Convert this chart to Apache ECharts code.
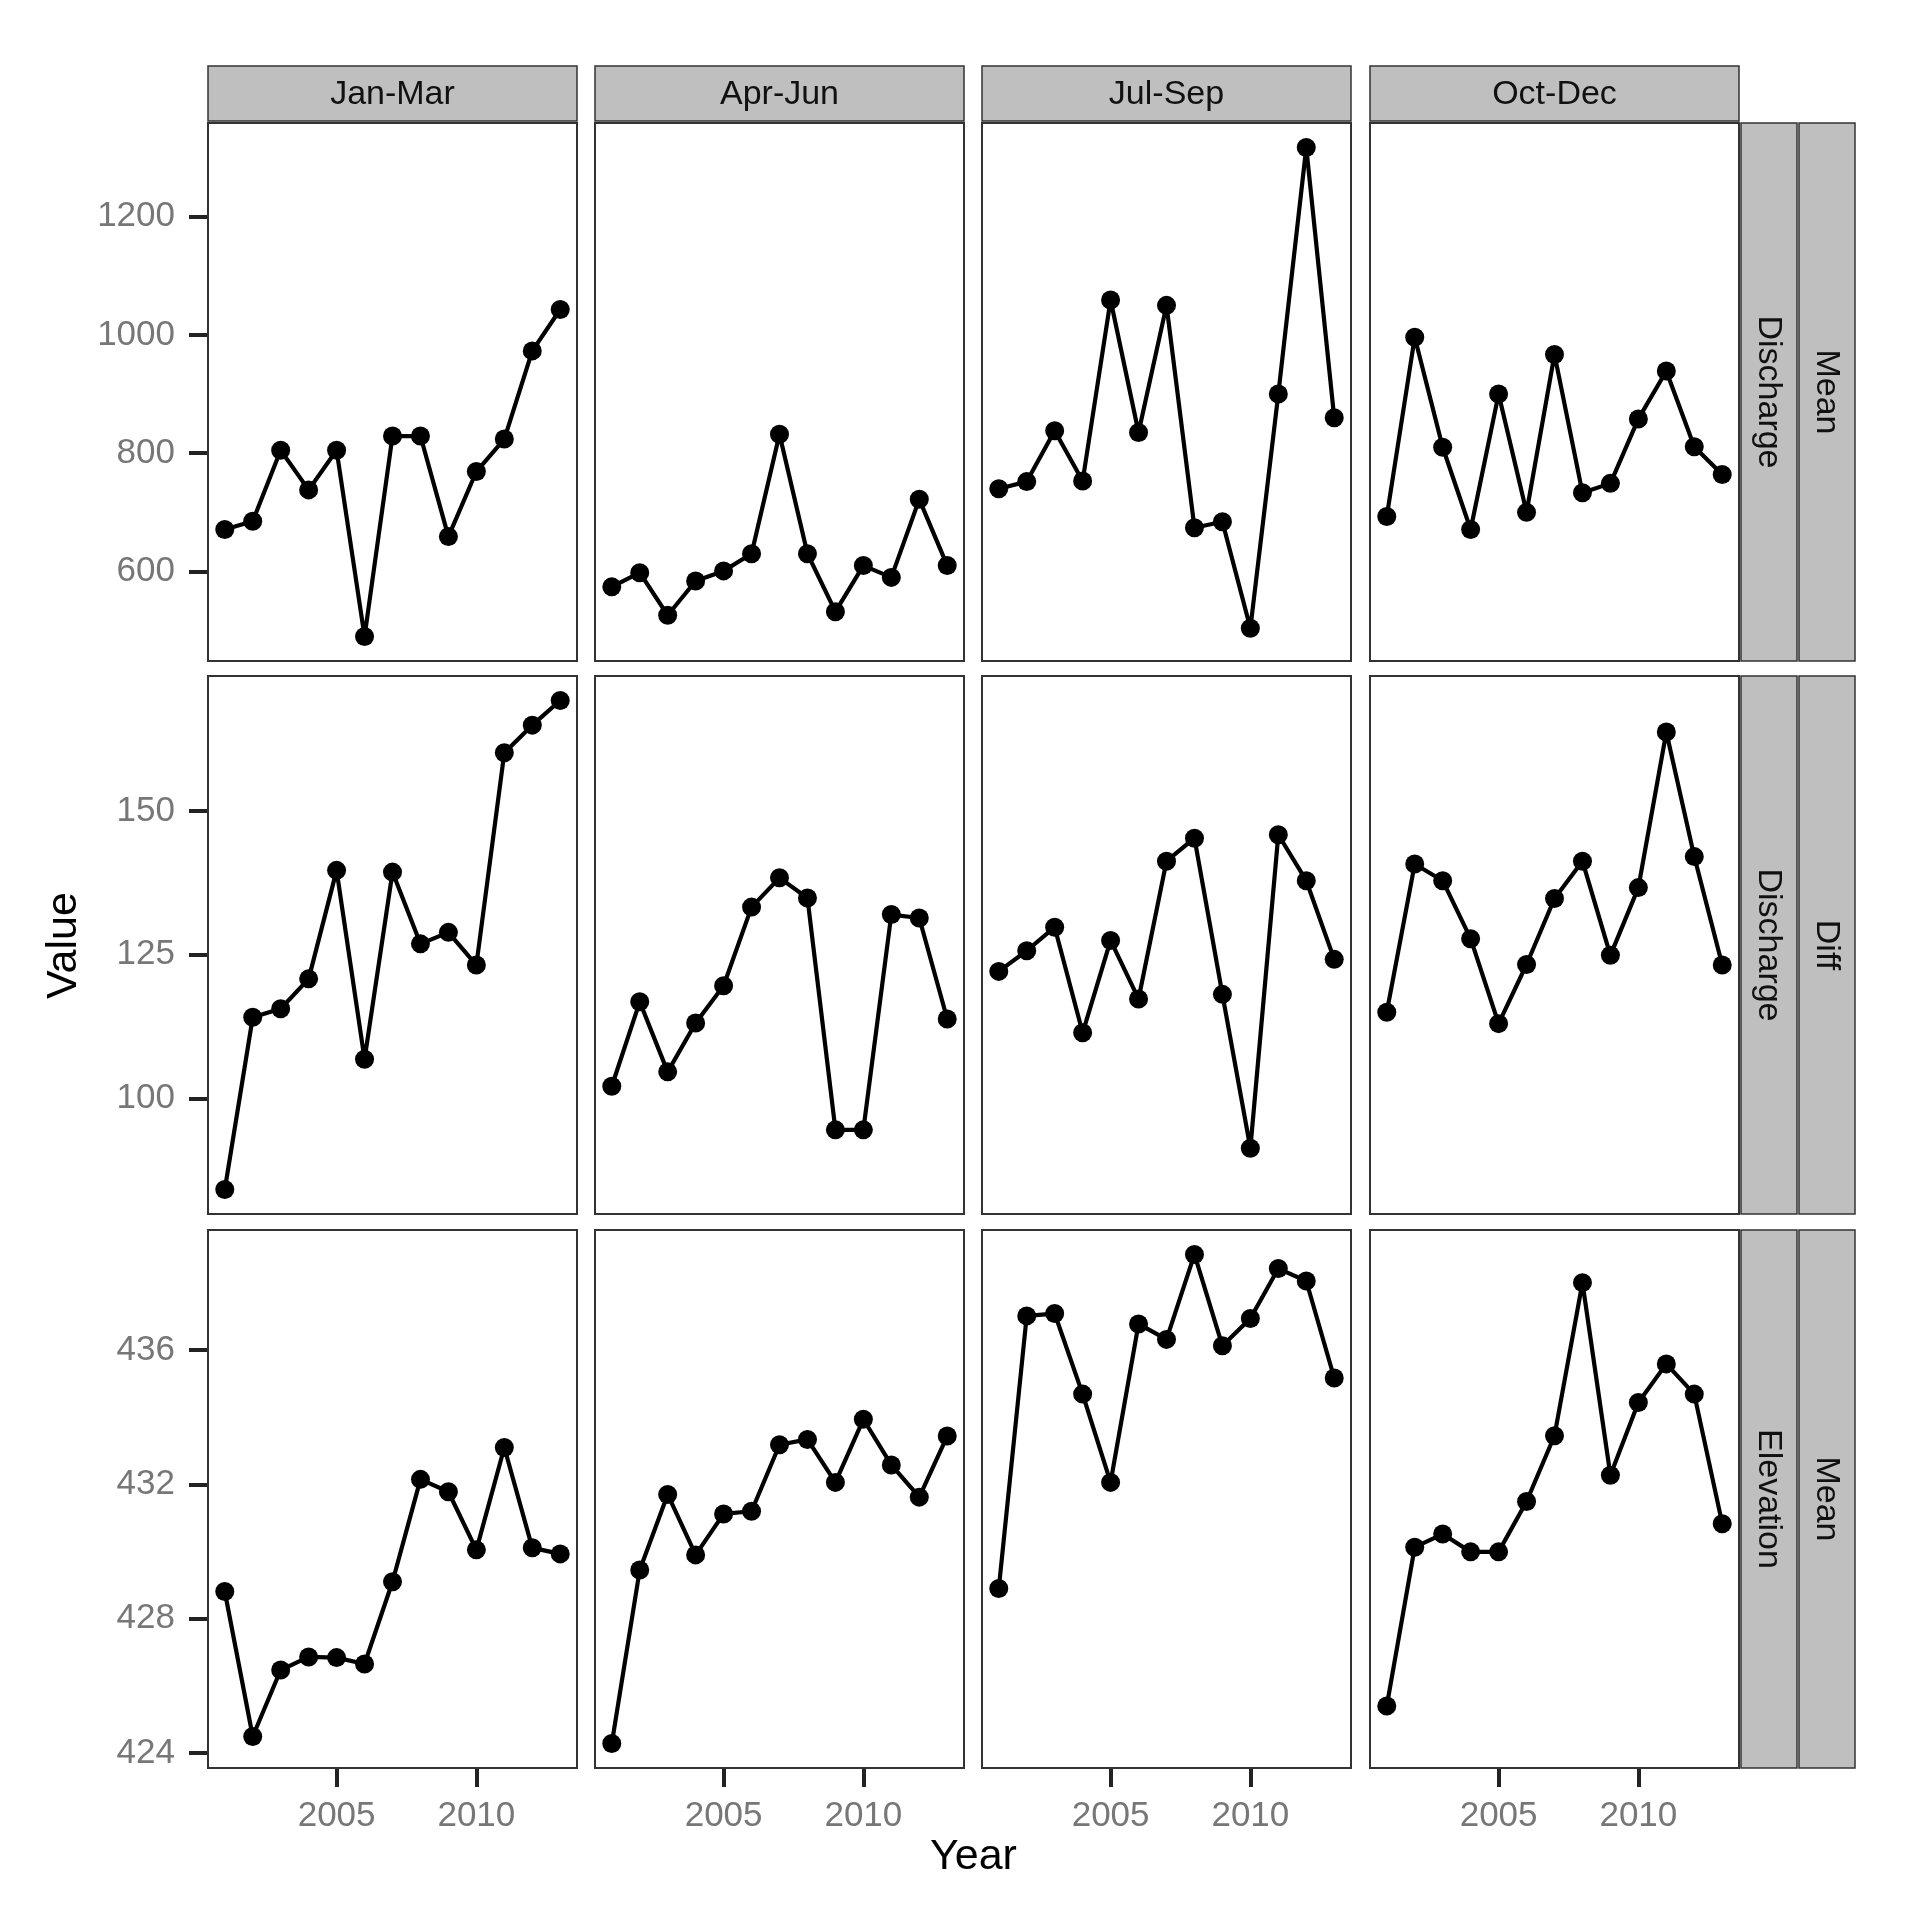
<!DOCTYPE html>
<html><head><meta charset="utf-8">
<script src="https://cdn.jsdelivr.net/npm/echarts@6.0.0/dist/echarts.min.js"></script>
<style>html,body{margin:0;padding:0;background:#fff}#c{width:1920px;height:1920px}</style>
</head><body><div id="c"></div>
<script>
// ---- data ----
const years = [2001,2002,2003,2004,2005,2006,2007,2008,2009,2010,2011,2012,2013];
const quarters = ['Jan-Mar','Apr-Jun','Jul-Sep','Oct-Dec'];
const rowVariable = ['Discharge','Discharge','Elevation'];
const rowStatistic = ['Mean','Diff','Mean'];
const xTickValues = [2005, 2010];
const yTicksDischargeMean = [600, 800, 1000, 1200];
const yTicksDischargeDiff = [100, 125, 150];
const yTicksElevationMean = [424, 428, 432, 436];

const dischargeMeanJanMar = [671,685,805,738,805,490,829,829,659,769,824,973,1043];
const dischargeMeanAprJun = [574,598,526,584,601,630,832,630,532,610,590,722,610];
const dischargeMeanJulSep = [740,752,838,753,1059,835,1050,674,684,504,900,1317,860];
const dischargeMeanOctDec = [693,996,810,671,900,700,967,733,749,858,939,811,764];

const dischargeDiffJanMar = [84.1,114.1,115.6,120.8,139.7,106.8,139.4,126.9,128.9,123.2,160.2,165.0,169.3];
const dischargeDiffAprJun = [102.1,116.8,104.6,113.1,119.6,133.3,138.4,134.9,94.5,94.5,132.0,131.4,113.8];
const dischargeDiffJulSep = [122.1,125.7,129.8,111.4,127.5,117.3,141.3,145.3,118.1,91.3,145.9,137.9,124.2];
const dischargeDiffOctDec = [115.0,140.8,137.9,127.8,113.0,123.3,134.8,141.3,124.9,136.7,163.8,142.1,123.2];

const elevationMeanJanMar = [428.81,424.49,426.47,426.86,426.84,426.65,429.10,432.15,431.78,430.05,433.10,430.11,429.93];
const elevationMeanAprJun = [424.28,429.45,431.70,429.90,431.12,431.20,433.18,433.34,432.06,433.94,432.58,431.62,433.44];
const elevationMeanJulSep = [428.90,437.02,437.09,434.69,432.06,436.78,436.32,438.85,436.13,436.94,438.43,438.06,435.17];
const elevationMeanOctDec = [425.40,430.13,430.52,429.99,429.99,431.49,433.45,438.01,432.27,434.44,435.59,434.69,430.83];

const rows = [
  {vals:[dischargeMeanJanMar,dischargeMeanAprJun,dischargeMeanJulSep,dischargeMeanOctDec], ticks:yTicksDischargeMean},
  {vals:[dischargeDiffJanMar,dischargeDiffAprJun,dischargeDiffJulSep,dischargeDiffOctDec], ticks:yTicksDischargeDiff},
  {vals:[elevationMeanJanMar,elevationMeanAprJun,elevationMeanJulSep,elevationMeanOctDec], ticks:yTicksElevationMean}
];

// ---- layout ----
const FONT = "'Liberation Sans', Arial, Helvetica, sans-serif";
const colLeft = [208, 595, 982, 1370];
const panelW = 369;
const rowTop = [123, 676, 1230];
const panelH = 538;
const stripTopY = 66, stripTopH = 55;
const stripRightX = [1741, 1799], stripRightW = 56;

const chart = echarts.init(document.getElementById('c'), null, {renderer:'canvas'});

const grids = [], xAxes = [], yAxes = [], series = [];
const xMin = years[0] - 0.05*(years[years.length-1]-years[0]);
const xMax = years[years.length-1] + 0.05*(years[years.length-1]-years[0]);
const plain = v => String(Math.round(v*1000)/1000);

rows.forEach((row, r) => {
  const all = [].concat(...row.vals);
  const lo = Math.min(...all), hi = Math.max(...all);
  const pad = 0.05*(hi-lo);
  const yMin = lo - pad, yMax = hi + pad;
  row.vals.forEach((vals, c) => {
    const idx = grids.length;
    grids.push({left: colLeft[c], top: rowTop[r], width: panelW, height: panelH,
      show: true, borderColor: '#333333', borderWidth: 2, backgroundColor: '#ffffff', z: 1});
    const showX = r === rows.length-1;
    const showY = c === 0;
    xAxes.push({type:'value', gridIndex: idx, min: xMin, max: xMax,
      axisLine:{show:false}, splitLine:{show:false},
      axisTick:{show: showX, customValues: xTickValues, length: 19, lineStyle:{color:'#222', width:4}},
      axisLabel:{show: showX, customValues: xTickValues, formatter: plain, margin: 31, color:'#777777', fontSize: 35, fontFamily: FONT}
    });
    yAxes.push({type:'value', gridIndex: idx, min: yMin, max: yMax,
      axisLine:{show:false}, splitLine:{show:false},
      axisTick:{show: showY, customValues: row.ticks, length: 19, lineStyle:{color:'#222', width:4}},
      axisLabel:{show: showY, customValues: row.ticks, formatter: plain, margin: 33, color:'#777777', fontSize: 35, fontFamily: FONT}
    });
    series.push({type:'line', xAxisIndex: idx, yAxisIndex: idx,
      data: years.map((y,i) => [y, vals[i]]),
      symbol:'circle', symbolSize: 19, showSymbol: true,
      lineStyle:{color:'#000', width:4.2}, itemStyle:{color:'#000'},
      silent: true, animation: false, z: 3});
  });
});

const graphics = [];
// top strips
quarters.forEach((q, c) => {
  graphics.push({type:'rect', shape:{x: colLeft[c], y: stripTopY, width: panelW, height: stripTopH},
    style:{fill:'#bfbfbf', stroke:'#333333', lineWidth: 1.5}});
  graphics.push({type:'text', x: colLeft[c] + panelW/2, y: stripTopY + stripTopH/2 + 1,
    style:{text: q, font: '34px ' + FONT, fill:'#111', align:'center', verticalAlign:'middle',
      textAlign:'center', textVerticalAlign:'middle'}});
});
// right strips
rows.forEach((row, r) => {
  const labels = [rowVariable[r], rowStatistic[r]];
  labels.forEach((lab, k) => {
    graphics.push({type:'rect', shape:{x: stripRightX[k], y: rowTop[r], width: stripRightW, height: panelH},
      style:{fill:'#bfbfbf', stroke:'#333333', lineWidth: 1.5}});
    graphics.push({type:'text', x: stripRightX[k] + stripRightW/2 - 1, y: rowTop[r] + panelH/2,
      rotation: -Math.PI/2,
      style:{text: lab, font: '34px ' + FONT, fill:'#111', align:'center', verticalAlign:'middle',
        textAlign:'center', textVerticalAlign:'middle'}});
  });
});
// axis titles
graphics.push({type:'text', x: (colLeft[0] + colLeft[3] + panelW)/2, y: 1857,
  style:{text:'Year', font:'43px ' + FONT, fill:'#000', align:'center', verticalAlign:'middle',
    textAlign:'center', textVerticalAlign:'middle'}});
graphics.push({type:'text', x: 64, y: (rowTop[0] + rowTop[2] + panelH)/2, rotation: Math.PI/2,
  style:{text:'Value', font:'43px ' + FONT, fill:'#000', align:'center', verticalAlign:'middle',
    textAlign:'center', textVerticalAlign:'middle'}});

chart.setOption({
  animation: false,
  backgroundColor: '#ffffff',
  grid: grids, xAxis: xAxes, yAxis: yAxes, series: series,
  graphic: {elements: graphics}
});
</script>
</body></html>
